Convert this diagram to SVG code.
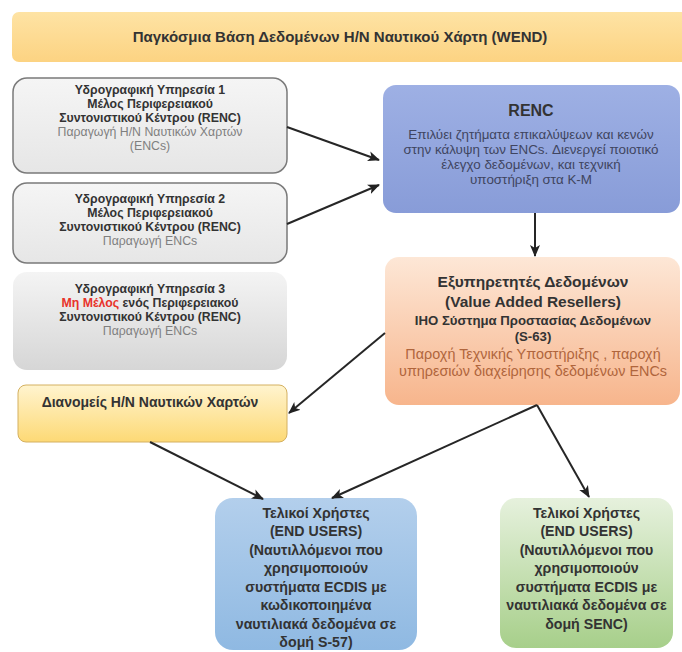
<svg xmlns="http://www.w3.org/2000/svg" width="682" height="652" viewBox="0 0 682 652">
<defs>
<linearGradient id="gBanner" x1="0" y1="0" x2="0" y2="1"><stop offset="0" stop-color="#fee3a4"/><stop offset="1" stop-color="#fcd382"/></linearGradient>
<linearGradient id="gGray" x1="0" y1="0" x2="0" y2="1"><stop offset="0" stop-color="#f5f5f5"/><stop offset="1" stop-color="#e6e6e6"/></linearGradient>
<linearGradient id="gGray3" x1="0" y1="0" x2="0" y2="1"><stop offset="0" stop-color="#f4f4f4"/><stop offset="1" stop-color="#d6d6d6"/></linearGradient>
<linearGradient id="gRenc" x1="0" y1="0" x2="0" y2="1"><stop offset="0" stop-color="#9eb0e4"/><stop offset="1" stop-color="#889cd8"/></linearGradient>
<linearGradient id="gVar" x1="0" y1="0" x2="0" y2="1"><stop offset="0" stop-color="#fde7d6"/><stop offset="1" stop-color="#f7b58c"/></linearGradient>
<linearGradient id="gDist" x1="0" y1="0" x2="0" y2="1"><stop offset="0" stop-color="#fff4cf"/><stop offset="1" stop-color="#fdd975"/></linearGradient>
<linearGradient id="gBlue" x1="0" y1="0" x2="0" y2="1"><stop offset="0" stop-color="#b3cfec"/><stop offset="1" stop-color="#8fb9e2"/></linearGradient>
<linearGradient id="gGreen" x1="0" y1="0" x2="0" y2="1"><stop offset="0" stop-color="#e6f1dd"/><stop offset="1" stop-color="#a7cf8a"/></linearGradient>
<marker id="arr" markerUnits="userSpaceOnUse" markerWidth="12" markerHeight="12" viewBox="0 0 12 12" refX="11" refY="6" orient="auto">
<path d="M0,1 L12,6 L0,11 L3,6 Z" fill="#222"/>
</marker>
<style>
text{font-family:"Liberation Sans",Arial,sans-serif;text-anchor:middle;}
.b{font-weight:700;fill:#333;}
.g{fill:#7f7f7f;}
.s11{font-size:12.3px;}
.r{font-size:13.4px;fill:#404560;}
.conn{stroke:#262626;stroke-width:2;fill:none;marker-end:url(#arr);}
</style>
</defs>

<g id="wend">
<rect x="12" y="12" width="680" height="50" rx="7" fill="url(#gBanner)"/>
<text x="340" y="42" class="b" font-size="15" fill="#3a3020">Παγκόσμια Βάση Δεδομένων Η/Ν Ναυτικού Χάρτη (WEND)</text>
</g>

<g id="ho1">
<rect x="13" y="78" width="274" height="95" rx="14" fill="url(#gGray)" stroke="#7a7a7a" stroke-width="1.5"/>
<text x="150" y="93.5" class="b s11">Υδρογραφική Υπηρεσία 1</text>
<text x="150" y="107.5" class="b s11">Μέλος Περιφερειακού</text>
<text x="150" y="121.5" class="b s11">Συντονιστικού Κέντρου (RENC)</text>
<text x="150" y="135.5" class="g s11">Παραγωγή Η/Ν Ναυτικών Χαρτών</text>
<text x="150" y="149.5" class="g s11">(ENCs)</text>
</g>

<g id="ho2">
<rect x="13" y="183" width="274" height="80" rx="14" fill="url(#gGray)" stroke="#7a7a7a" stroke-width="1.5"/>
<text x="150" y="202.5" class="b s11">Υδρογραφική Υπηρεσία 2</text>
<text x="150" y="216.5" class="b s11">Μέλος Περιφερειακού</text>
<text x="150" y="230.5" class="b s11">Συντονιστικού Κέντρου (RENC)</text>
<text x="150" y="244.5" class="g s11">Παραγωγή ENCs</text>
</g>

<g id="ho3">
<rect x="13" y="272" width="274" height="98" rx="14" fill="url(#gGray3)"/>
<text x="150" y="292.5" class="b s11">Υδρογραφική Υπηρεσία 3</text>
<text x="150" y="306.5" class="b s11"><tspan fill="#e8332a">Μη Μέλος</tspan> ενός Περιφερειακού</text>
<text x="150" y="320.5" class="b s11">Συντονιστικού Κέντρου (RENC)</text>
<text x="150" y="334.5" class="g s11">Παραγωγή ENCs</text>
</g>

<g id="renc">
<rect x="383" y="85" width="297" height="128" rx="13" fill="url(#gRenc)"/>
<text x="531" y="116" class="b" font-size="16">RENC</text>
<text x="531" y="139" class="r">Επιλύει ζητήματα επικαλύψεων και κενών</text>
<text x="531" y="154" class="r">στην κάλυψη των ENCs. Διενεργεί ποιοτικό</text>
<text x="531" y="169" class="r">έλεγχο δεδομένων, και τεχνική</text>
<text x="531" y="184" class="r">υποστήριξη στα Κ-Μ</text>
</g>

<g id="var">
<rect x="385" y="257" width="295" height="148" rx="14" fill="url(#gVar)"/>
<text x="533" y="287" class="b" font-size="15.5" fill="#3d342e">Εξυπηρετητές Δεδομένων</text>
<text x="533" y="306.5" class="b" font-size="15.5" fill="#3d342e">(Value Added Resellers)</text>
<text x="533" y="325" class="b" font-size="13.2" fill="#5a3b2c">ΙΗΟ Σύστημα Προστασίας Δεδομένων</text>
<text x="533" y="341" class="b" font-size="13.2" fill="#5a3b2c">(S-63)</text>
<text x="533" y="359" font-size="14.4" fill="#b0653c">Παροχή Τεχνικής Υποστήριξης , παροχή</text>
<text x="533" y="376" font-size="14.4" fill="#b0653c">υπηρεσιών διαχείρησης δεδομένων ENCs</text>
</g>

<g id="dist">
<rect x="18" y="385" width="269" height="57" rx="8" fill="url(#gDist)" stroke="#d4b060" stroke-width="1"/>
<text x="150" y="407" class="b" font-size="14" fill="#3a3020">Διανομείς Η/Ν Ναυτικών Χαρτών</text>
</g>

<g id="eu1">
<rect x="215" y="498" width="202" height="152" rx="18" fill="url(#gBlue)"/>
<g class="b" font-size="14.2" fill="#2a3a55">
<text x="316" y="517.5">Τελικοί Χρήστες</text>
<text x="316" y="536">(END USERS)</text>
<text x="316" y="554.5">(Ναυτιλλόμενοι που</text>
<text x="316" y="573">χρησιμοποιούν</text>
<text x="316" y="591.5">συστήματα ECDIS με</text>
<text x="316" y="610">κωδικοποιημένα</text>
<text x="316" y="628.5">ναυτιλιακά δεδομένα σε</text>
<text x="316" y="647">δομή S-57)</text>
</g>
</g>

<g id="eu2">
<rect x="500" y="498" width="173" height="150" rx="16" fill="url(#gGreen)"/>
<g class="b" font-size="14.2" fill="#34452c">
<text x="586.5" y="517.5">Τελικοί Χρήστες</text>
<text x="586.5" y="536">(END USERS)</text>
<text x="586.5" y="554.5">(Ναυτιλλόμενοι που</text>
<text x="586.5" y="573">χρησιμοποιούν</text>
<text x="586.5" y="591.5">συστήματα ECDIS με</text>
<text x="586.5" y="610">ναυτιλιακά δεδομένα σε</text>
<text x="586.5" y="628.5">δομή SENC)</text>
</g>
</g>

<g id="connectors">
<line class="conn" x1="287" y1="127" x2="379" y2="160"/>
<line class="conn" x1="287" y1="224" x2="379" y2="185"/>
<line class="conn" x1="535" y1="213" x2="535" y2="256"/>
<line class="conn" x1="385" y1="333" x2="289" y2="413"/>
<line class="conn" x1="150" y1="442" x2="263" y2="499"/>
<line class="conn" x1="537" y1="405" x2="332" y2="498"/>
<line class="conn" x1="537" y1="405" x2="589" y2="497"/>
</g>
</svg>
